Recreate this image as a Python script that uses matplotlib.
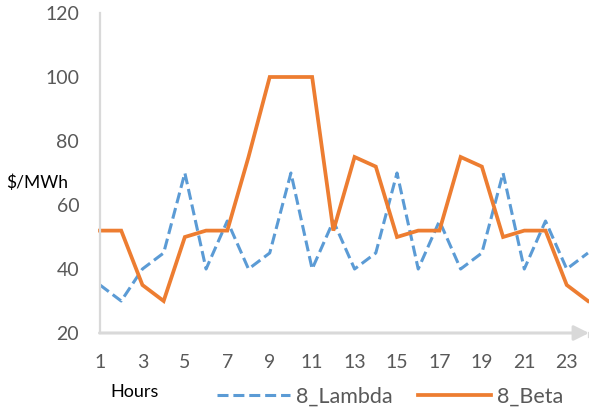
import matplotlib.pyplot as plt
from matplotlib.lines import Line2D

plt.rcParams['font.family'] = ['Lato', 'DejaVu Sans']

hours = list(range(1, 25))
lambda_8 = [35, 30, 40, 45, 70, 40, 55, 40, 45, 70, 40, 55,
            40, 45, 70, 40, 55, 40, 45, 70, 40, 55, 40, 45]
beta_8 = [52, 52, 35, 30, 50, 52, 52, 75, 100, 100, 100, 52,
          75, 72, 50, 52, 52, 75, 72, 50, 52, 52, 35, 30]
xticks = list(range(1, 24, 2))
yticks = [20, 40, 60, 80, 100, 120]

blue = '#5B9BD5'
orange = '#ED7D31'
grey = '#D9D9D9'
txt = '#595959'

fig = plt.figure(figsize=(5.89, 4.12), dpi=100)
ax = fig.add_axes([100 / 589, 79 / 412, 489 / 589, 320 / 412])

ax.plot(hours, lambda_8, color=blue, lw=2.2, dashes=(3.6, 1.6), clip_on=False,
        solid_joinstyle='miter', dash_capstyle='butt')
ax.plot(hours, beta_8, color=orange, lw=2.7, clip_on=False, solid_joinstyle='miter')

ax.set_xlim(1, 24.05)
ax.set_ylim(20, 120)
ax.set_xticks(xticks)
ax.set_yticks(yticks)
ax.tick_params(length=0, labelsize=14, labelcolor=txt)
ax.tick_params(axis='x', pad=15)
ax.tick_params(axis='y', pad=15)

for s in ['top', 'right', 'bottom']:
    ax.spines[s].set_visible(False)
ax.spines['left'].set_color(grey)
ax.spines['left'].set_linewidth(1.6)
ax.spines['left'].set_bounds(20, 120)

# x axis drawn as an arrow
ax.annotate('', xy=(1.0, 0), xytext=(-0.001, 0), xycoords='axes fraction',
            arrowprops=dict(arrowstyle='-|>,head_length=0.9,head_width=0.45',
                            color=grey, lw=2.2, shrinkA=0, shrinkB=0),
            annotation_clip=False)
ax.plot([1, 1], [0, -0.012], transform=ax.transAxes, color=grey, lw=1.6,
        clip_on=False)

fig.text(37 / 589, 1 - 183 / 412, '$/MWh', ha='center', va='center',
         fontsize=12.5, color='black')
fig.text(135 / 589, 1 - 392 / 412, 'Hours', ha='center', va='center',
         fontsize=13, color='black')

handles = [Line2D([], [], color=blue, lw=2.2, dashes=(3.6, 1.6)),
           Line2D([], [], color=orange, lw=2.7)]
fig.legend(handles, ['8_Lambda', '8_Beta'], loc='center',
           bbox_to_anchor=(390 / 589, 1 - 397 / 412), ncol=2, frameon=False,
           fontsize=15.5, labelcolor=txt, handlelength=3.4, handletextpad=0.25,
           columnspacing=1.2, borderaxespad=0, borderpad=0)

fig.savefig('out.png', dpi=100)
